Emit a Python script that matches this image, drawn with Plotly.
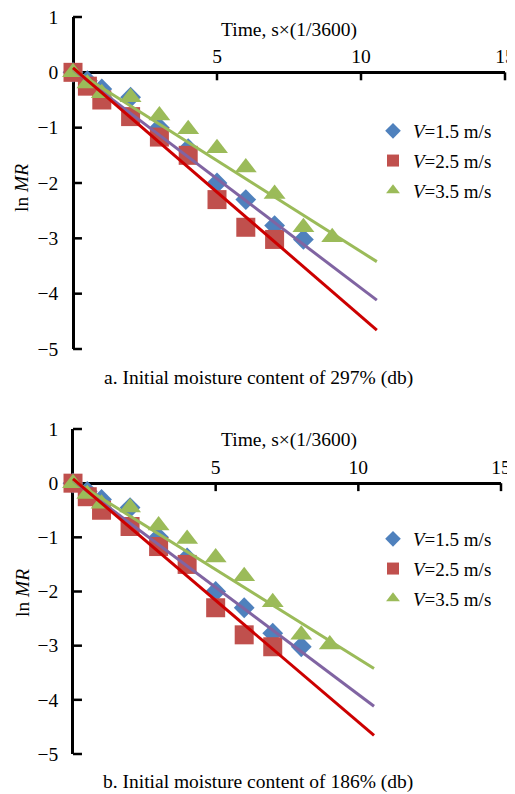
import numpy as np
import plotly.graph_objects as go

# ---------------- data ----------------
series_names = ["<i>V</i>=1.5 m/s", "<i>V</i>=2.5 m/s", "<i>V</i>=3.5 m/s"]
t_v15 = [0, 0.5, 1, 2, 3, 4, 5, 6, 7, 8]
y_v15 = [0, -0.15, -0.3, -0.45, -1.0, -1.38, -2.0, -2.3, -2.77, -3.02]
t_v25 = [0, 0.5, 1, 2, 3, 4, 5, 6, 7]
y_v25 = [0, -0.25, -0.5, -0.8, -1.17, -1.5, -2.3, -2.8, -3.02]
t_v35 = [0, 0.5, 1, 2, 3, 4, 5, 6, 7, 8, 9]
y_v35 = [0, -0.2, -0.38, -0.45, -0.78, -1.03, -1.37, -1.72, -2.2, -2.8, -2.98]

# linear fit lines  lnMR = intercept + slope * t
fit_slope = [-0.395, -0.449, -0.329]
fit_intercept = [0.05, 0.08, 0.05]
fit_t_end = 10.55

x_ticks = [0, 5, 10, 15]
x_tick_text = ["", "5", "10", "15"]
y_ticks = [1, 0, -1, -2, -3, -4, -5]
y_tick_text = ["1", "0", "\u22121", "\u22122", "\u22123", "\u22124", "\u22125"]

captions = ["a. Initial moisture content of 297% (db)",
            "b. Initial moisture content of 186% (db)"]
x_title = "Time, s\u00d7(1/3600)"
y_title = "ln <i>MR</i>"

# ---------------- style / layout ----------------
OFF = 8                      # page body margin of the written html
W, H = 515 - OFF, 794 - OFF
FONT = "Liberation Serif"
FS = 19.5
marker_colors = ["#4F81BD", "#C0504D", "#9BBB59"]
marker_symbols = ["diamond", "square", "triangle-up"]
marker_sizes = [16, 19, 19]
line_colors = ["#8064A2", "#CC0000", "#9BBB59"]
AXW = 2.5          # axis / tick line width
XTICK_LEN, YTICK_LEN = 8, 9
X_LO = -0.06       # tiny negative start so the x = 0 axis line is drawn


def px_x(p):
    return (p - OFF) / W


def px_y(p):
    return 1 - (p - OFF) / H


panels = [
    dict(x0=73, x15=505, y1=17, y5=349, title_y=30, cap_y=378, ylab_y=188, legend_top=112),
    dict(x0=73, x15=501, y1=429, y5=754, title_y=440, cap_y=782, ylab_y=593, legend_top=520),
]

data_t = [t_v15, t_v25, t_v35]
data_y = [y_v15, y_v25, y_v35]

fig = go.Figure()
layout_axes = {}
tickfont = dict(family=FONT, size=FS, color="black")

for pi, p in enumerate(panels):
    n = pi + 1
    xa, ya = ("x", "y") if n == 1 else (f"x{n}", f"y{n}")
    leg = "legend" if n == 1 else f"legend{n}"
    sx = (p["x15"] - p["x0"]) / 15.0          # px per time unit
    sy = (p["y5"] - p["y1"]) / 6.0            # px per lnMR unit
    xdom = [px_x(p["x0"] + X_LO * sx), px_x(p["x15"])]
    ydom = [px_y(p["y5"]), px_y(p["y1"])]
    zero_pos = ydom[0] + (5 / 6) * (ydom[1] - ydom[0])

    # tick marks (pointing into the plot) placed at the tick values
    fig.add_trace(go.Scatter(
        x=x_ticks, y=[-XTICK_LEN / 2 / sy] * len(x_ticks), mode="markers",
        marker=dict(symbol="line-ns", size=XTICK_LEN / 1.41,
                    line=dict(color="black", width=AXW)),
        xaxis=xa, yaxis=ya, showlegend=False, hoverinfo="skip", cliponaxis=False))
    fig.add_trace(go.Scatter(
        x=[YTICK_LEN / 2 / sx] * len(y_ticks), y=y_ticks, mode="markers",
        marker=dict(symbol="line-ew", size=YTICK_LEN / 1.41,
                    line=dict(color="black", width=AXW)),
        xaxis=xa, yaxis=ya, showlegend=False, hoverinfo="skip", cliponaxis=False))

    for i in range(3):
        fig.add_trace(go.Scatter(
            x=data_t[i], y=data_y[i], mode="markers", name=series_names[i],
            marker=dict(symbol=marker_symbols[i], size=marker_sizes[i], color=marker_colors[i],
                        line=dict(width=0)),
            xaxis=xa, yaxis=ya, legend=leg, legendgroup=f"g{pi}{i}",
            cliponaxis=False, showlegend=True))
    for i in [0, 2, 1]:
        tt = np.linspace(0, fit_t_end, 50)
        fig.add_trace(go.Scatter(
            x=tt, y=fit_intercept[i] + fit_slope[i] * tt, mode="lines",
            line=dict(color=line_colors[i], width=3),
            xaxis=xa, yaxis=ya, showlegend=False, hoverinfo="skip", cliponaxis=False))

    layout_axes["xaxis" if n == 1 else f"xaxis{n}"] = dict(
        domain=xdom, range=[X_LO, 15], anchor="free", position=zero_pos, side="top",
        showline=False, ticks="", tickvals=x_ticks, ticktext=x_tick_text,
        showgrid=False, zeroline=True, zerolinecolor="black", zerolinewidth=AXW,
        tickfont=tickfont, ticklabelstandoff=5, automargin=False,
        ticklabeloverflow="allow")
    layout_axes["yaxis" if n == 1 else f"yaxis{n}"] = dict(
        domain=ydom, range=[-5, 1], anchor=xa, side="left",
        showline=False, ticks="", tickvals=y_ticks, ticktext=y_tick_text,
        showgrid=False, zeroline=True, zerolinecolor="black", zerolinewidth=AXW,
        tickfont=tickfont, ticklabelstandoff=12, automargin=False,
        ticklabeloverflow="allow")

    fig.add_annotation(x=px_x(289), y=px_y(p["title_y"]), xref="paper", yref="paper",
                       text=x_title, showarrow=False, xanchor="center", yanchor="middle",
                       font=dict(family=FONT, size=FS, color="black"))
    fig.add_annotation(x=px_x(258), y=px_y(p["cap_y"]), xref="paper", yref="paper",
                       text=captions[pi], showarrow=False, xanchor="center", yanchor="middle",
                       font=dict(family=FONT, size=FS, color="black"))
    fig.add_annotation(x=px_x(22), y=px_y(p["ylab_y"]), xref="paper", yref="paper",
                       text=y_title, showarrow=False, textangle=-90,
                       xanchor="center", yanchor="middle",
                       font=dict(family=FONT, size=FS, color="black"))

leg_common = dict(xref="paper", yref="paper", xanchor="left", yanchor="top",
                  bgcolor="rgba(0,0,0,0)", font=dict(family=FONT, size=19, color="black"),
                  itemsizing="constant", traceorder="grouped", tracegroupgap=2)
fig.update_layout(
    width=W, height=H, margin=dict(l=0, r=0, t=0, b=0, autoexpand=False),
    paper_bgcolor="white", plot_bgcolor="rgba(0,0,0,0)",
    legend=dict(x=px_x(373), y=px_y(panels[0]["legend_top"]), **leg_common),
    legend2=dict(x=px_x(373), y=px_y(panels[1]["legend_top"]), **leg_common),
    **layout_axes,
)

fig.write_html("out.html")
